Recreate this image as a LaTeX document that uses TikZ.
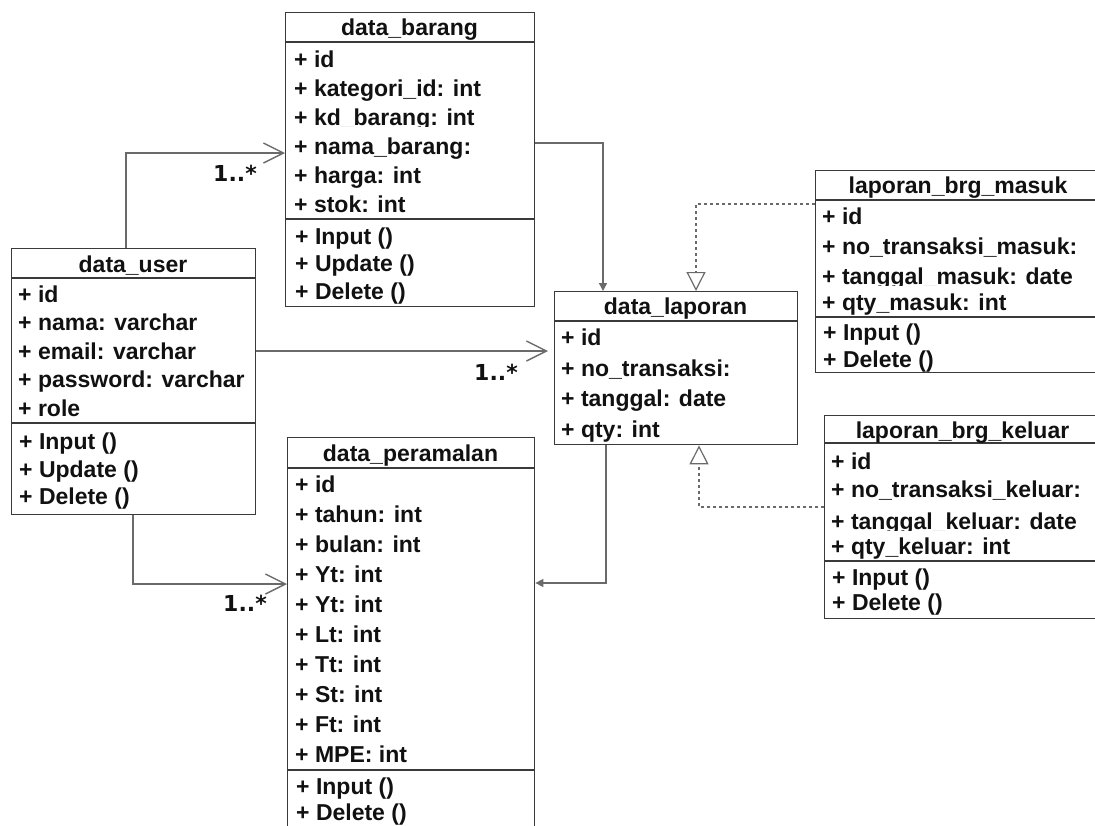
\documentclass[tikz,border=0pt]{standalone}
\usepackage{fontspec}
\setmainfont{Liberation Sans}
\newfontfamily\multfont{DejaVu Sans}
\usetikzlibrary{arrows.meta}
\definecolor{boxline}{HTML}{3A3A3A}
\definecolor{wire}{HTML}{6A6A6A}
\definecolor{txt}{HTML}{111111}
\newcommand\umlfont{\fontsize{23}{28}\selectfont\bfseries}
\begin{document}
\begin{tikzpicture}[x=1pt,y=-1pt,
  box/.style={draw=boxline,line width=1.4pt,rectangle,inner sep=0pt,anchor=north west},
  sep/.style={draw=boxline,line width=1.4pt},
  rowtxt/.style={anchor=base west,inner sep=0pt,font=\umlfont,text=txt},
  ttl/.style={anchor=base,inner sep=0pt,font=\umlfont,text=txt},
  mult/.style={inner sep=0pt,font=\multfont\fontsize{22}{26}\selectfont\bfseries,text=txt},
  conn/.style={draw=wire,line width=1.4pt},
  assoc/.style={conn,-{Straight Barb[length=20pt,width=20pt,line width=1.4pt]}},
  flow/.style={conn,-{Triangle[length=8pt,width=8pt]}},
  realize/.style={conn,dash pattern=on 3pt off 3pt,
    -{Triangle[open,length=19pt,width=19pt,fill=white,line width=1.2pt]}}
]
\useasboundingbox (0,0) rectangle (1095,825);
\clip (0,0) rectangle (1095,825);
\fill[white] (0,0) rectangle (1095,825);

% ---------- data_barang ----------
\node[box,minimum width=249pt,minimum height=294pt] (barang) at (285,12) {};
\draw[sep] ([yshift=-30pt]barang.north west) -- ([yshift=-30pt]barang.north east);
\draw[sep] ([yshift=-207pt]barang.north west) -- ([yshift=-207pt]barang.north east);
\node[ttl] (barang-t) at (409.5,35) {data\_barang};
\node[rowtxt] (barang-a1) at (294,67) {+ id};
\node[rowtxt] (barang-a2) at (294,96) {+ kategori\_id: int};
\begin{scope}
  \clip (286,100) rectangle (533,126);
  \node[rowtxt] (barang-a3) at (294,125) {+ kd\_barang: int};
\end{scope}
\node[rowtxt] (barang-a4) at (294,154) {+ nama\_barang:};
\node[rowtxt] (barang-a5) at (294,183) {+ harga: int};
\node[rowtxt] (barang-a6) at (294,212) {+ stok: int};
\node[rowtxt] (barang-m1) at (295,244) {+ Input ()};
\node[rowtxt] (barang-m2) at (295,271) {+ Update ()};
\node[rowtxt] (barang-m3) at (295,299) {+ Delete ()};

% ---------- data_user ----------
\node[box,minimum width=244pt,minimum height=266pt] (user) at (11,248) {};
\draw[sep] ([yshift=-30pt]user.north west) -- ([yshift=-30pt]user.north east);
\draw[sep] ([yshift=-175pt]user.north west) -- ([yshift=-175pt]user.north east);
\node[ttl] (user-t) at (133,272) {data\_user};
\node[rowtxt] (user-a1) at (18,302) {+ id};
\node[rowtxt] (user-a2) at (18,330) {+ nama: varchar};
\node[rowtxt] (user-a3) at (18,359) {+ email: varchar};
\node[rowtxt] (user-a4) at (18,387) {+ password: varchar};
\node[rowtxt] (user-a5) at (18,416) {+ role};
\node[rowtxt] (user-m1) at (19,449) {+ Input ()};
\node[rowtxt] (user-m2) at (19,477) {+ Update ()};
\node[rowtxt] (user-m3) at (19,504) {+ Delete ()};

% ---------- data_peramalan ----------
\node[box,minimum width=247pt,minimum height=420pt] (peramalan) at (287,437) {};
\draw[sep] ([yshift=-31pt]peramalan.north west) -- ([yshift=-31pt]peramalan.north east);
\draw[sep] ([yshift=-333pt]peramalan.north west) -- ([yshift=-333pt]peramalan.north east);
\node[ttl] (peramalan-t) at (410.5,461) {data\_peramalan};
\node[rowtxt] (peramalan-a1) at (295,492) {+ id};
\node[rowtxt] (peramalan-a2) at (295,522) {+ tahun: int};
\node[rowtxt] (peramalan-a3) at (295,552) {+ bulan: int};
\node[rowtxt] (peramalan-a4) at (295,582) {+ Yt: int};
\node[rowtxt] (peramalan-a5) at (295,612) {+ Yt: int};
\node[rowtxt] (peramalan-a6) at (295,642) {+ Lt: int};
\node[rowtxt] (peramalan-a7) at (295,672) {+ Tt: int};
\node[rowtxt] (peramalan-a8) at (295,702) {+ St: int};
\node[rowtxt] (peramalan-a9) at (295,732) {+ Ft: int};
\node[rowtxt] (peramalan-a10) at (295,762) {+ MPE: int};
\node[rowtxt] (peramalan-m1) at (296,794) {+ Input ()};
\node[rowtxt] (peramalan-m2) at (296,820) {+ Delete ()};

% ---------- data_laporan ----------
\node[box,minimum width=243pt,minimum height=153pt] (laporan) at (554,291) {};
\draw[sep] ([yshift=-30pt]laporan.north west) -- ([yshift=-30pt]laporan.north east);
\node[ttl] (laporan-t) at (675.5,314) {data\_laporan};
\node[rowtxt] (laporan-a1) at (561,345) {+ id};
\node[rowtxt] (laporan-a2) at (561,376) {+ no\_transaksi:};
\node[rowtxt] (laporan-a3) at (561,406) {+ tanggal: date};
\node[rowtxt] (laporan-a4) at (561,437) {+ qty: int};

% ---------- laporan_brg_masuk ----------
\node[box,minimum width=286pt,minimum height=202pt] (masuk) at (815,170) {};
\draw[sep] ([yshift=-30pt]masuk.north west) -- ([yshift=-30pt]masuk.north east);
\draw[sep] ([yshift=-147pt]masuk.north west) -- ([yshift=-147pt]masuk.north east);
\node[ttl] (masuk-t) at (958,193) {laporan\_brg\_masuk};
\node[rowtxt] (masuk-a1) at (822,224) {+ id};
\node[rowtxt] (masuk-a2) at (822,254) {+ no\_transaksi\_masuk:};
\begin{scope}
  \clip (816,260) rectangle (1100,285);
  \node[rowtxt] (masuk-a3) at (822,284) {+ tanggal\_masuk: date};
\end{scope}
\node[rowtxt] (masuk-a4) at (822,310) {+ qty\_masuk: int};
\node[rowtxt] (masuk-m1) at (823,340) {+ Input ()};
\node[rowtxt] (masuk-m2) at (823,367) {+ Delete ()};

% ---------- laporan_brg_keluar ----------
\node[box,minimum width=277pt,minimum height=203pt] (keluar) at (824,415) {};
\draw[sep] ([yshift=-28pt]keluar.north west) -- ([yshift=-28pt]keluar.north east);
\draw[sep] ([yshift=-146pt]keluar.north west) -- ([yshift=-146pt]keluar.north east);
\node[ttl] (keluar-t) at (962.5,438) {laporan\_brg\_keluar};
\node[rowtxt] (keluar-a1) at (831,469) {+ id};
\node[rowtxt] (keluar-a2) at (831,497) {+ no\_transaksi\_keluar:};
\begin{scope}
  \clip (825,505) rectangle (1100,530);
  \node[rowtxt] (keluar-a3) at (831,529) {+ tanggal\_keluar: date};
\end{scope}
\node[rowtxt] (keluar-a4) at (831,554) {+ qty\_keluar: int};
\node[rowtxt] (keluar-m1) at (832,585) {+ Input ()};
\node[rowtxt] (keluar-m2) at (832,610) {+ Delete ()};

% ---------- associations from data_user ----------
\draw[assoc] ([xshift=115pt]user.north west) |- ([yshift=-141pt]barang.north west);
\node[mult] (m-barang) at (235,173) {1..*};
\draw[assoc] ([yshift=-103pt]user.north east) -- ([yshift=-60pt,xshift=-6pt]laporan.north west);
\node[mult] (m-laporan) at (496,372) {1..*};
\draw[assoc] ([xshift=122pt]user.south west) |- ([yshift=-147pt]peramalan.north west);
\node[mult] (m-peramalan) at (245,603) {1..*};

% ---------- data flow into and out of data_laporan ----------
\draw[flow] ([yshift=-131pt]barang.north east) -| ([xshift=49pt]laporan.north west);
\draw[flow] ([xshift=52pt]laporan.south west) |- ([yshift=-146pt]peramalan.north east);

% ---------- realizations ----------
\draw[realize] ([yshift=-34pt]masuk.north west) -| ([xshift=142pt]laporan.north west);
\draw[realize] ([yshift=-92pt]keluar.north west) -| ([xshift=145pt]laporan.south west);
\end{tikzpicture}
\end{document}
